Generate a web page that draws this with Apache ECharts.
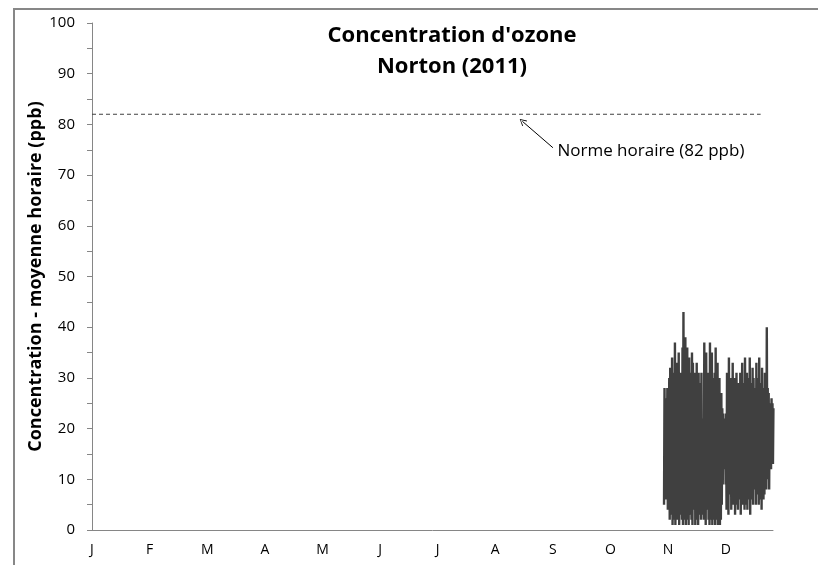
<!DOCTYPE html>
<html>
<head>
<meta charset="utf-8">
<script src="https://cdn.jsdelivr.net/npm/echarts@6/dist/echarts.min.js"></script>
<style>
	html, body { margin: 0; padding: 0; background: #fff; }
	#main { width: 818px; height: 565px; }
</style>
</head>
<body>
<div id="main"></div>
<script>
// lettres des mois (axe des x)
var months = ['J', 'F', 'M', 'A', 'M', 'J', 'J', 'A', 'S', 'O', 'N', 'D'];
// ticks de l'axe des y
var yTicks = [0, 10, 20, 30, 40, 50, 60, 70, 80, 90, 100];

// premier jour de mesure (jour de l'annee) et pas de temps (jours)
var startDay = 302;
var stepDay = 0.25;
// concentrations (ppb), 4 valeurs par jour
var ozone = [
	5, 28, 9, 26,   6, 24, 13, 28,   4, 22, 10, 30,   2, 32, 6, 29,
	3, 34, 1, 27,   5, 31, 2, 37,    1, 30, 4, 33,    2, 28, 6, 35,
	1, 24, 3, 31,   4, 29, 2, 36,    1, 43, 3, 30,    2, 38, 1, 34,
	5, 36, 2, 29,   1, 34, 6, 31,    3, 27, 2, 35,    1, 33, 4, 30,
	5, 31, 1, 28,   2, 33, 6, 26,    1, 31, 3, 29,    6, 24, 2, 31,
	3, 18, 8, 22,   2, 37, 5, 28,    1, 35, 10, 25,   4, 31, 2, 23,
	1, 37, 3, 33,   2, 35, 1, 30,    3, 28, 2, 31,    1, 36, 4, 27,
	2, 33, 1, 29,   3, 30, 1, 26,    2, 27, 5, 24,    9, 23, 15, 21,
	12, 22, 9, 23,  4, 31, 9, 28,    3, 34, 7, 26,    8, 30, 4, 27,
	6, 33, 5, 25,   10, 30, 3, 28,   5, 31, 8, 24,    4, 29, 10, 26,
	6, 31, 3, 27,   9, 33, 5, 28,    12, 29, 4, 34,   7, 26, 5, 31,
	4, 30, 9, 25,   6, 34, 3, 29,    10, 27, 6, 32,   5, 30, 11, 24,
	8, 28, 5, 33,   7, 26, 10, 30,   5, 34, 8, 27,    6, 29, 4, 32,
	12, 25, 6, 28,  7, 31, 9, 24,    8, 40, 14, 28,   10, 27, 8, 25,
	16, 24, 12, 26, 18, 25, 13, 24
];
// norme horaire
var normeValue = 82;
var normeDays = [0, 353];

var monthLen = 365 / 12;
var font = 'Open Sans';

var ozoneData = [];
for (var i = 0; i < ozone.length; i++) {
	ozoneData.push([(startDay + i * stepDay) / monthLen, ozone[i]]);
}
var normeData = [];
for (var j = 0; j < normeDays.length; j++) {
	normeData.push([normeDays[j] / monthLen, normeValue]);
}

var chart = echarts.init(document.getElementById('main'));
var option = {
	animation : false,
	backgroundColor : '#fff',
	title : {
		text : "Concentration d'ozone\nNorton (2011)",
		left : 447,
		top : 15,
		textAlign : 'center',
		textStyle : {
			fontFamily : font,
			fontWeight : 'bold',
			fontSize : 22,
			lineHeight : 31,
			color : '#000'
		}
	},
	graphic : [{
		type : 'rect',
		shape : { x : 14, y : 9, width : 900, height : 700 },
		style : { fill : 'none', stroke : '#878787', lineWidth : 2 },
		silent : true
	}],
	grid : {
		left : 92,
		right : 45,
		top : 23,
		bottom : 35
	},
	xAxis : {
		type : 'value',
		min : 0,
		max : 11.82,
		interval : 1,
		axisLine : { lineStyle : { color : '#868686', width : 1 } },
		axisTick : { show : false },
		splitLine : { show : false },
		axisLabel : {
			margin : 13,
			fontFamily : font,
			fontSize : 14,
			color : '#000',
			formatter : function(v){
				return Number.isInteger(v) ? (months[v] || '') : '';
			}
		}
	},
	yAxis : {
		type : 'value',
		min : yTicks[0],
		max : yTicks[yTicks.length - 1],
		interval : 10,
		name : 'Concentration - moyenne horaire (ppb)',
		nameLocation : 'middle',
		nameGap : 47,
		nameMoveOverlap : false,
		nameTextStyle : {
			fontFamily : font,
			fontWeight : 'bold',
			fontSize : 18,
			color : '#000'
		},
		axisLine : { show : true, lineStyle : { color : '#868686', width : 1 } },
		axisTick : { show : true, length : 5, lineStyle : { color : '#868686' } },
		minorTick : { show : true, splitNumber : 2, length : 5, lineStyle : { color : '#868686' } },
		splitLine : { show : false },
		axisLabel : {
			margin : 17,
			fontFamily : font,
			fontSize : 15,
			color : '#000'
		}
	},
	series : [{
		type : 'line',
		name : 'Ozone',
		data : ozoneData,
		showSymbol : false,
		symbol : 'none',
		lineStyle : { color : '#404040', width : 2.4 },
		z : 3
	}, {
		type : 'line',
		name : 'Norme',
		data : normeData,
		showSymbol : false,
		symbol : 'none',
		lineStyle : { color : '#404040', width : 1, type : [4, 3] },
		markLine : {
			silent : true,
			symbol : ['none', 'path://M0,0 L6,10 L5,11 L0,2 L-5,11 L-6,10 Z'],
			symbolSize : [7, 7],
			label : { show : false },
			lineStyle : { color : '#000', width : 1, type : 'solid' },
			data : [[{ coord : [8.0, 75.4] }, { coord : [7.47, 80.6] }]]
		},
		markPoint : {
			silent : true,
			symbol : 'circle',
			symbolSize : 1,
			itemStyle : { color : 'rgba(0,0,0,0)' },
			label : {
				show : true,
				position : 'right',
				distance : 4,
				formatter : 'Norme horaire (82 ppb)',
				fontFamily : font,
				fontSize : 17,
				color : '#000'
			},
			data : [{ coord : [8.0, 74.8] }]
		}
	}]
};
chart.setOption(option);
</script>
</body>
</html>
